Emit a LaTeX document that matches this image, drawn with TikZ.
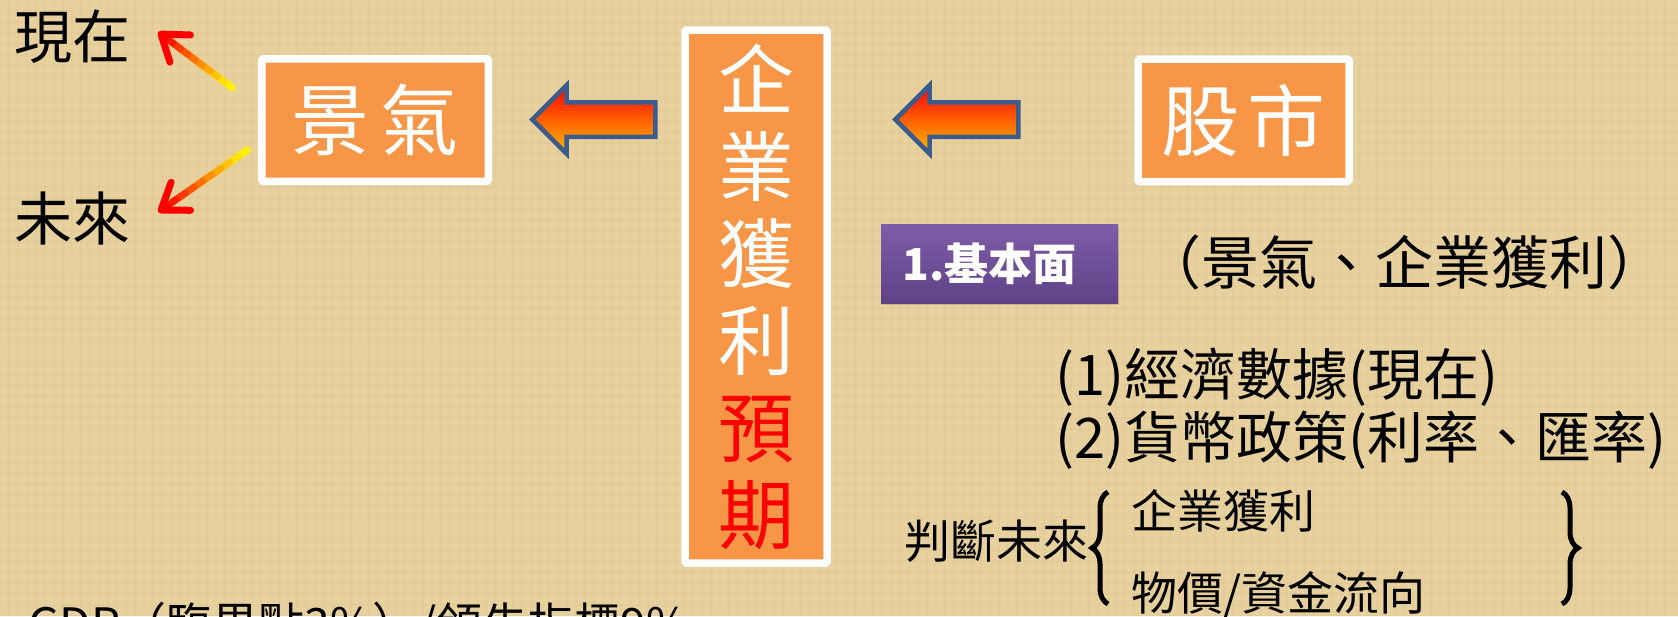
\documentclass[tikz,border=0pt]{standalone}
\usepackage{fontspec}
\usepackage{tikz}
\usetikzlibrary{calc,positioning,shapes.arrows,shadows,arrows.meta,decorations.pathreplacing}
\newfontfamily\tcfont{Noto Sans CJK TC}
\definecolor{paper}{RGB}{231,209,158}
\definecolor{weave}{RGB}{196,160,98}
\definecolor{boxorange}{RGB}{247,150,70}
\definecolor{arrowblue}{RGB}{60,92,142}
\definecolor{violettop}{RGB}{128,92,168}
\definecolor{violetbot}{RGB}{94,66,134}
\tikzset{
orangebox/.style={draw=white, line width=7.5pt, fill=boxorange, rounded corners=1.5pt, inner sep=0pt, text=white,
  drop shadow={opacity=0.25, shadow xshift=1pt, shadow yshift=-2pt}}, % white framed boxes
violetbox/.style={top color=violettop, bottom color=violetbot, inner sep=0pt, inner xsep=21pt, text=white, align=left,
  drop shadow={opacity=0.3, shadow xshift=1pt, shadow yshift=-2pt}},
blockarrow/.style={single arrow, shape border rotate=180, draw=arrowblue, line width=4.5pt, inner xsep=0pt, inner ysep=15pt,
  minimum width=66pt, minimum height=123pt, single arrow head extend=17pt,
  top color=red, bottom color={rgb,255:red,255;green,190;blue,0}},
thinline/.style={line width=7pt, line cap=round},
curly/.style={decorate, decoration={brace, amplitude=16pt}, line width=5pt},
bodytext/.style={inner sep=0pt, text=black, font=\tcfont},
}

\begin{document}
\begin{tikzpicture}[x=1pt,y=1pt,yscale=-1,xscale=1]
\useasboundingbox (0,0) rectangle (1678,616);
\fill[paper] (0,0) rectangle (1678,616);
%Paper weave
\foreach \x in {0,9,...,1678}
  \draw[weave, opacity=0.08, line width=2pt] (\x,0) -- (\x,616);
\foreach \y in {0,11,...,616}
  \draw[weave, opacity=0.07, line width=2pt] (0,\y) -- (1678,\y);
%Boxes
\node[orangebox, minimum width=226.5pt, minimum height=122.5pt, font=\tcfont\fontsize{78}{78}\selectfont] (jingqi) at (375,120) {景\hspace{12pt}氣};
\node[orangebox, minimum width=142pt, minimum height=533pt, align=center, font=\tcfont\fontsize{76}{87}\selectfont] (qiye) at (756,296.5) {企\\業\\獲\\利\\\textcolor{red}{預}\\\textcolor{red}{期}};
\node[orangebox, minimum width=211pt, minimum height=122.5pt, font=\tcfont\fontsize{78}{78}\selectfont] (gushi) at (1243.5,120.3) {股\hspace{8pt}市};
\node[violetbox, anchor=north west, minimum width=237pt, minimum height=79pt, text width=195pt, font=\tcfont\bfseries\fontsize{44}{44}\selectfont] (basic) at (881,224) {1.基本面};
%Block arrows
\node[blockarrow] (leftarrow) at (602.5,119.5) {};
\node[blockarrow] (rightarrow) at (965.5,119.5) {};
%Texts
\node[bodytext, font=\tcfont\fontsize{58}{58}\selectfont] (xianzai) at (72,37) {現在};
\node[bodytext, font=\tcfont\fontsize{58}{58}\selectfont] (weilai) at (72,218) {未來};
\node[bodytext, font=\tcfont\fontsize{58}{58}\selectfont] (basicnote) at (1404,262) {（景氣、企業獲利）};
\node[bodytext, anchor=west, font=\tcfont\fontsize{56}{56}\selectfont] (econ) at (1055,377) {(1)經濟數據(現在)};
\node[bodytext, anchor=west, font=\tcfont\fontsize{56}{56}\selectfont] (money) at (1055,440) {(2)貨幣政策(利率、匯率)};
\node[bodytext, font=\tcfont\fontsize{46}{46}\selectfont] (judge) at (996,541) {判斷未來};
\node[bodytext, anchor=west, font=\tcfont\fontsize{46}{46}\selectfont] (profit) at (1131,511) {企業獲利};
\node[bodytext, anchor=west, font=\tcfont\fontsize{46}{46}\selectfont] (price) at (1131,595) {物價/資金流向};
\node[bodytext, anchor=base west, font=\tcfont\fontsize{46}{46}\selectfont] (gdp) at (28,641) {GDP（臨界點3\%）/領先指標9\%};
%Braces
\draw[curly] (1108,604) -- (1108,492);
\draw[curly] (1562,492) -- (1562,604);
%Thin arrows
\coordinate (nowtail) at ($(jingqi.west)+(-25.5,-32)$);
\coordinate (futtail) at ($(jingqi.west)+(-10.5,30)$);
\coordinate (nowtip) at ($(xianzai.east)+(28,-5)$);
\coordinate (futtip) at ($(weilai.east)+(28,-6)$);
\foreach \ta/\tb in {nowtail/nowtip,futtail/futtip}{
  \foreach \i in {0,...,8}{
    \pgfmathsetmacro{\mixval}{\i*100/9}
    \draw[thinline, draw=red!\mixval!yellow] ($(\ta)!\i/10!(\tb)$) -- ($(\ta)!{(\i+1)/10}!(\tb)$);
  }
  \draw[thinline, draw=red, -{Straight Barb[length=24pt, width=34pt, round]}] ($(\ta)!0.9!(\tb)$) -- (\tb);
}
\end{tikzpicture}
\end{document}
